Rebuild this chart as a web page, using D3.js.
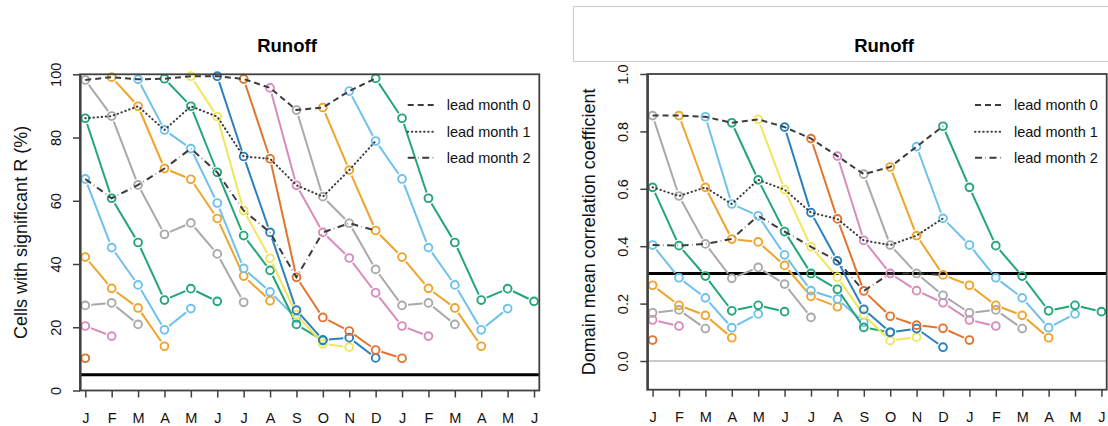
<!DOCTYPE html>
<html><head><meta charset="utf-8">
<script src="https://cdn.jsdelivr.net/npm/d3@7"></script>
<style>
body{margin:0;background:#fff;}
svg{display:block;font-family:"Liberation Sans",Arial,Helvetica,sans-serif;}
</style>
</head><body>
<svg id="chart" width="1108" height="426"></svg>
<script>
// ---------------- data ----------------
const monthLabels = ["J","F","M","A","M","J","J","A","S","O","N","D","J","F","M","A","M","J"];
const initMonthColors = ["#A9A9A9","#EFA42C","#6EC1EE","#23A57A","#F1E65A","#2A80C0","#E2742E","#D98BB9",
                         "#A9A9A9","#EFA42C","#6EC1EE","#23A57A"];
const leadNames = ["lead month 0","lead month 1","lead month 2"];
// rows: initialization month Jan..Dec ; columns: lead 0..6
const pctSignificant = [
  [98.2, 86.8, 65.0, 49.4, 53.0, 43.2, 27.9],
  [99.1, 89.9, 70.2, 66.8, 54.4, 36.2, 28.4],
  [98.4, 82.4, 76.5, 59.3, 38.6, 31.2, 22.8],
  [98.6, 89.9, 69.0, 49.0, 38.0, 20.9, 15.8],
  [99.4, 86.6, 56.9, 41.8, 24.0, 14.8, 13.7],
  [99.4, 74.0, 50.0, 25.4, 16.0, 16.7, 10.3],
  [98.5, 73.3, 35.8, 23.1, 18.8, 12.8, 10.2],
  [95.7, 64.9, 50.0, 41.9, 30.9, 20.4, 17.2],
  [88.7, 61.3, 52.9, 38.3, 26.9, 27.7, 20.9],
  [89.5, 69.7, 50.6, 42.2, 32.3, 26.1, 14.0],
  [94.7, 78.9, 66.9, 45.2, 33.4, 19.2, 25.9],
  [98.7, 86.1, 60.8, 46.8, 28.6, 32.2, 28.2]
];
const meanCorrelation = [
  [0.855, 0.575, 0.408, 0.288, 0.326, 0.268, 0.152],
  [0.855, 0.605, 0.425, 0.415, 0.333, 0.225, 0.189],
  [0.851, 0.547, 0.506, 0.370, 0.245, 0.216, 0.135],
  [0.830, 0.631, 0.451, 0.305, 0.250, 0.117, 0.100],
  [0.842, 0.597, 0.398, 0.292, 0.160, 0.071, 0.083],
  [0.815, 0.517, 0.349, 0.180, 0.100, 0.113, 0.048],
  [0.775, 0.495, 0.244, 0.156, 0.125, 0.114, 0.073],
  [0.714, 0.420, 0.305, 0.245, 0.203, 0.143, 0.122],
  [0.651, 0.404, 0.305, 0.229, 0.168, 0.178, 0.113],
  [0.676, 0.437, 0.300, 0.264, 0.194, 0.159, 0.081],
  [0.747, 0.497, 0.404, 0.290, 0.220, 0.116, 0.164],
  [0.818, 0.605, 0.402, 0.296, 0.175, 0.194, 0.172]
];
const pctThreshold = 5;
const corrThreshold = 0.305;
const pctTicks = [0, 20, 40, 60, 80, 100];
const corrTicks = [0, 0.2, 0.4, 0.6, 0.8, 1.0];

// ---------------- drawing ----------------
const svg = d3.select("#chart");
const leadDash = ["6,4", "0.5,3.6", "7,3.5,0.5,3.5"];
const leadColor = "#3c3c3c";

// light frame at top right (image border in reference)
svg.append("rect").attr("x", 573.5).attr("y", 6.5).attr("width", 540).attr("height", 55)
  .attr("fill", "none").attr("stroke", "#cfcfcf").attr("stroke-width", 1.2);

const panels = [
  {data: pctSignificant, left: 80, right: 539.3, top: 74.3, bottom: 390.5, ydom: [0, 100],
   ticks: pctTicks, fmt: d3.format("d"), ylab: "Cells with significant R (%)", ylabX: 27,
   titleX: 287, thr: pctThreshold, zero: false, legX: 407.7},
  {data: meanCorrelation, left: 647.3, right: 1106.7, top: 74, bottom: 389.7, ydom: [-0.1, 1],
   ticks: corrTicks, fmt: d3.format(".1f"), ylab: "Domain mean correlation coefficient", ylabX: 594.5,
   titleX: 884, thr: corrThreshold, zero: true, legX: 975}
];

panels.forEach(p => {
  const x = d3.scaleLinear().domain([-0.2, 17.2]).range([p.left, p.right]);
  const y = d3.scaleLinear().domain(p.ydom).range([p.bottom, p.top]);
  const g = svg.append("g");

  if (p.zero) {
    g.append("line").attr("x1", p.left).attr("x2", p.right).attr("y1", y(0)).attr("y2", y(0))
      .attr("stroke", "#b8b8b8").attr("stroke-width", 1.5);
  }
  g.append("line").attr("x1", p.left).attr("x2", p.right).attr("y1", y(p.thr)).attr("y2", y(p.thr))
    .attr("stroke", "#000").attr("stroke-width", 3);

  // colored series (type "b": lines with gaps + open circles)
  const gap = 6;
  function drawB(pts, color) {
    for (let i = 0; i < pts.length - 1; i++) {
      const [x1, y1] = pts[i], [x2, y2] = pts[i + 1];
      const dx = x2 - x1, dy = y2 - y1, d = Math.hypot(dx, dy);
      if (d <= 2 * gap) continue;
      const ux = dx / d, uy = dy / d;
      g.append("line")
        .attr("x1", x1 + ux * gap).attr("y1", y1 + uy * gap)
        .attr("x2", x2 - ux * gap).attr("y2", y2 - uy * gap)
        .attr("stroke", color).attr("stroke-width", 2);
    }
    pts.forEach(([cx, cy]) => {
      g.append("circle").attr("cx", cx).attr("cy", cy).attr("r", 3.9)
        .attr("fill", "none").attr("stroke", color).attr("stroke-width", 1.9);
    });
  }
  p.data.forEach((row, m) => {
    const color = initMonthColors[m];
    const main = row.map((v, k) => [x(m + k), y(v)]);
    drawB(main, color);
    const wrapped = row.map((v, k) => [m + k, v]).filter(d => d[0] >= 12)
      .map(d => [x(d[0] - 12), y(d[1])]);
    if (wrapped.length) drawB(wrapped, color);
  });

  // lead-month lines
  [0, 1, 2].forEach(k => {
    const pts = d3.range(12).map(c => [c, p.data[(c - k + 12) % 12][k]]);
    g.append("path").datum(pts)
      .attr("d", d3.line().x(d => x(d[0])).y(d => y(d[1])))
      .attr("fill", "none").attr("stroke", leadColor).attr("stroke-width", 2)
      .attr("stroke-linecap", k === 1 ? "round" : "butt")
      .attr("stroke-dasharray", leadDash[k]);
  });

  // box
  g.append("rect").attr("x", p.left).attr("y", p.top)
    .attr("width", p.right - p.left).attr("height", p.bottom - p.top)
    .attr("fill", "none").attr("stroke", "#404040").attr("stroke-width", 1.8);

  // x axis
  const xa = g.append("g").attr("transform", `translate(0,${p.bottom})`)
    .call(d3.axisBottom(x).tickValues(d3.range(18)).tickFormat(i => monthLabels[i])
      .tickSize(7).tickSizeOuter(0));
  xa.select(".domain").remove();
  xa.selectAll(".tick line").attr("stroke", "#404040").attr("stroke-width", 1.5);
  xa.selectAll(".tick text").attr("y", 32).attr("dy", 0)
    .attr("font-size", "14.5px").attr("fill", "#111").style("font-family", "Liberation Sans, Arial, sans-serif");

  // y axis
  const ya = g.append("g").attr("transform", `translate(${p.left},0)`)
    .call(d3.axisLeft(y).tickValues(p.ticks).tickFormat(p.fmt).tickSize(7).tickSizeOuter(0));
  ya.select(".domain").attr("stroke", "#404040").attr("stroke-width", 2.2);
  ya.selectAll(".tick line").attr("stroke", "#404040").attr("stroke-width", 1.5);
  ya.selectAll(".tick text").attr("x", 0).attr("y", -19.5).attr("dy", 0)
    .attr("transform", "rotate(-90)").attr("text-anchor", "middle")
    .attr("font-size", "14.5px").attr("fill", "#111").style("font-family", "Liberation Sans, Arial, sans-serif");

  // y label
  svg.append("text").attr("transform", `translate(${p.ylabX},${(p.top + p.bottom) / 2}) rotate(-90)`)
    .attr("text-anchor", "middle").attr("font-size", "18px").attr("fill", "#111").text(p.ylab);

  // title
  svg.append("text").attr("x", p.titleX).attr("y", 52).attr("text-anchor", "middle")
    .attr("font-size", "18.5px").attr("font-weight", "bold").attr("fill", "#000").text("Runoff");

  // legend
  const legY = [105, 131.7, 157.7];
  leadNames.forEach((name, k) => {
    svg.append("line").attr("x1", p.legX).attr("x2", p.legX + 27)
      .attr("y1", legY[k]).attr("y2", legY[k])
      .attr("stroke", leadColor).attr("stroke-width", 2)
      .attr("stroke-linecap", k === 1 ? "round" : "butt")
      .attr("stroke-dasharray", leadDash[k]);
    svg.append("text").attr("x", p.legX + 39).attr("y", legY[k] + 5)
      .attr("font-size", "14.5px").attr("fill", "#111").text(name);
  });
});
</script>
</body></html>
